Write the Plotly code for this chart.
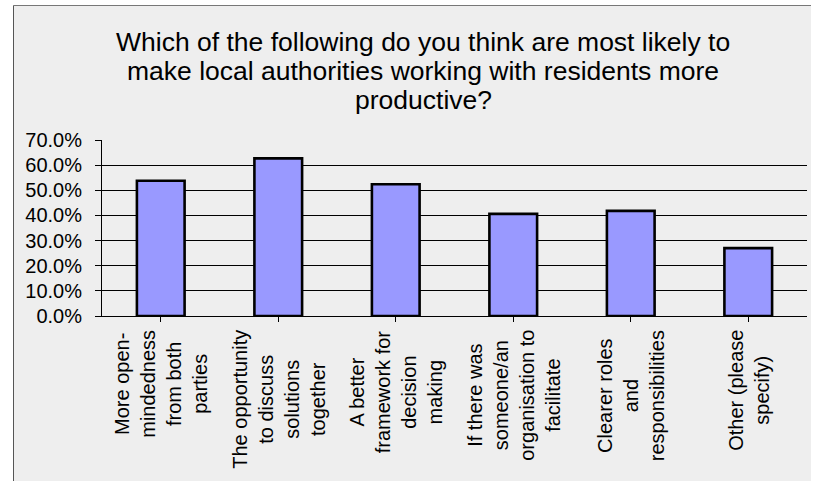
import plotly.graph_objects as go

categories = [
    "More open-<br>mindedness<br>from both<br>parties",
    "The opportunity<br>to discuss<br>solutions<br>together",
    "A better<br>framework for<br>decision<br>making",
    "If there was<br>someone/an<br>organisation to<br>facilitate",
    "Clearer roles<br>and<br>responsibilities",
    "Other (please<br>specify)",
]
values = [0.538, 0.627, 0.524, 0.406, 0.418, 0.270]
title_lines = [
    "Which of the following do you think are most likely to",
    "make local authorities working with residents more",
    "productive?",
]
y_ticks = [0.0, 0.1, 0.2, 0.3, 0.4, 0.5, 0.6, 0.7]

W, H = 813, 481
L, R, T, B = 102, 6, 140, 165
PW, PH = W - L - R, H - T - B

def px_x(p):
    return (p - L) / PW

def px_y(p):
    return (H - B - p) / PH

FONT = "Liberation Sans, Arial, sans-serif"
TITLE_FONT = "Liberation Sans Narrow, Arial Narrow, Liberation Sans, Arial, sans-serif"

xs = list(range(len(categories)))

fig = go.Figure()
fig.add_trace(go.Bar(
    x=xs, y=values,
    marker=dict(color="#9999FF", line=dict(color="#000000", width=2.6)),
    hoverinfo="skip",
))

shapes = [
    dict(type="rect", xref="paper", yref="paper",
         x0=px_x(13.5), x1=px_x(811), y0=px_y(490), y1=px_y(5.5),
         fillcolor="#EEEEEE", line=dict(width=0), layer="below"),
    dict(type="line", xref="paper", yref="paper",
         x0=px_x(13.5), x1=px_x(811), y0=px_y(5.5), y1=px_y(5.5),
         line=dict(color="#777777", width=1), layer="below"),
    dict(type="line", xref="paper", yref="paper",
         x0=px_x(13.5), x1=px_x(13.5), y0=px_y(5.5), y1=px_y(490),
         line=dict(color="#555555", width=1), layer="below"),
]

annotations = []
title_y = [42, 71, 100]
for line, yy in zip(title_lines, title_y):
    annotations.append(dict(
        text=line, xref="paper", yref="paper", x=px_x(423), y=px_y(yy),
        xanchor="center", yanchor="middle", showarrow=False,
        font=dict(family=TITLE_FONT, size=26.5, color="#000000"),
    ))
for xi, lab in zip(xs, categories):
    annotations.append(dict(
        text=lab, xref="x", yref="paper", x=xi, y=px_y(328),
        xanchor="center", yanchor="top", textangle=-90, align="center",
        showarrow=False,
        font=dict(family=FONT, size=20, color="#000000"),
    ))

fig.update_layout(
    width=W, height=H,
    margin=dict(l=L, r=R, t=T, b=B),
    paper_bgcolor="#FFFFFF",
    plot_bgcolor="#EEEEEE",
    showlegend=False,
    bargap=0.594,
    shapes=shapes,
    annotations=annotations,
    font=dict(family=FONT, size=20, color="#000000"),
)
fig.update_xaxes(
    range=[-0.5, len(categories) - 0.5],
    tickmode="array", tickvals=xs, ticktext=[""] * len(xs),
    tickson="boundaries", ticks="outside", ticklen=5, tickcolor="#000000",
    showline=True, linecolor="#000000", linewidth=1,
    showgrid=False, zeroline=False, showticklabels=False,
)
fig.update_yaxes(
    range=[0, 0.7], tickmode="array", tickvals=y_ticks,
    tickformat=".1%", ticks="outside", ticklen=6, tickcolor="#000000",
    showline=True, linecolor="#000000", linewidth=1,
    showgrid=True, gridcolor="#000000", gridwidth=1,
    zeroline=False, ticklabelstandoff=9,
    tickfont=dict(family=FONT, size=20, color="#000000"),
)

fig.write_html("out.html")
